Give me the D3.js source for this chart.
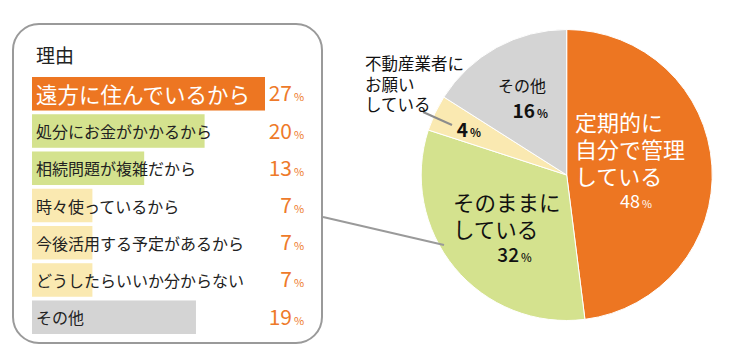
<!DOCTYPE html>
<html><head><meta charset="utf-8">
<script src="https://cdn.jsdelivr.net/npm/d3@7"></script>
<style>
html,body{margin:0;padding:0;background:#fff;}
svg{display:block;font-family:"Noto Sans CJK JP","Noto Sans",sans-serif;}
</style></head>
<body>
<svg id="chart" width="730" height="359"></svg>
<script>
// ---- data ----
const reasonTitle = "理由";
const reasons = ["遠方に住んでいるから","処分にお金がかかるから","相続問題が複雑だから","時々使っているから","今後活用する予定があるから","どうしたらいいか分からない","その他"];
const reasonValues = [27,20,13,7,7,7,19];
const reasonGroup = ["a","b","b","c","c","c","d"];

const pieLabels = [["定期的に","自分で管理","している"],["そのままに","している"],["不動産業者に","お願い","している"],["その他"]];
const pieValues = [48,32,4,16];
const pieKeys = ["a","b","c","d"];

// ---- styles ----
const colors = {a:"#ED7622", b:"#D4E28E", c:"#FAE9B1", d:"#D4D4D4"};
const orangeText = "#EE7A2A";

const svg = d3.select("#chart");

// ---- left panel ----
const box = {x:13, y:24, w:309, h:319};
svg.append("rect").attr("x",box.x).attr("y",box.y).attr("width",box.w).attr("height",box.h)
  .attr("rx",26).attr("ry",26).attr("fill","#fff").attr("stroke","#9a9a9a").attr("stroke-width",2);

svg.append("text").attr("x",36).attr("y",63).attr("font-size",19).attr("fill","#222").text(reasonTitle);

const x = d3.scaleLinear().domain([0,27]).range([32,265]);
const y = d3.scaleBand().domain(d3.range(reasons.length)).range([77,334]).paddingInner(0.1).paddingOuter(0);

const rows = svg.append("g").selectAll("g").data(reasons).join("g");
rows.append("rect")
  .attr("x",x(0)).attr("y",(d,i)=>y(i)).attr("height",y.bandwidth())
  .attr("width",(d,i)=>x(reasonValues[i])-x(0))
  .attr("fill",(d,i)=>colors[reasonGroup[i]]);
rows.append("text")
  .attr("x",36).attr("y",(d,i)=>y(i)+y.bandwidth()/2)
  .attr("dominant-baseline","central")
  .attr("font-size",(d,i)=>i===0?21.5:16)
  .attr("fill",(d,i)=>i===0?"#fff":"#222")
  .text(d=>d);
rows.append("text")
  .attr("x",292).attr("y",(d,i)=>y(i)+y.bandwidth()/2+7.5)
  .attr("text-anchor","end").attr("font-size",21).attr("fill",orangeText)
  .text((d,i)=>reasonValues[i]);
rows.append("text")
  .attr("x",294).attr("y",(d,i)=>y(i)+y.bandwidth()/2+7.5)
  .attr("font-size",11).attr("fill",orangeText).text("%");

// ---- pie ----
const cx = 566.7, cy = 175, r = 145.5;
const pie = d3.pie().sort(null).value(d=>d)(pieValues);
const arc = d3.arc().innerRadius(0).outerRadius(r);
const pg = svg.append("g").attr("transform",`translate(${cx},${cy})`);
pg.selectAll("path").data(pie).join("path")
  .attr("d",arc).attr("fill",(d,i)=>colors[pieKeys[i]])
  .attr("stroke","#fff").attr("stroke-width",1);

// connector from box to "そのままに" slice
svg.append("line").attr("x1",box.x+box.w+1).attr("y1",217).attr("x2",444).attr("y2",245)
  .attr("stroke","#9a9a9a").attr("stroke-width",2);
// leader for 4%
svg.append("line").attr("x1",423).attr("y1",112).attr("x2",452).attr("y2",125)
  .attr("stroke","#8c8c8c").attr("stroke-width",2);

function label(lines, x0, y0, lh, size, fill){
  lines.forEach((s,k)=>svg.append("text").attr("x",x0).attr("y",y0+k*lh)
    .attr("font-size",size).attr("fill",fill).text(s));
}
function pct(val, xEnd, yb, size, fill, weight){
  svg.append("text").attr("x",xEnd).attr("y",yb).attr("text-anchor","end")
    .attr("font-size",size).attr("font-weight",weight||400).attr("fill",fill).text(val);
  svg.append("text").attr("x",xEnd+2).attr("y",yb).attr("font-size",size*0.6)
    .attr("font-weight",weight||400).attr("fill",fill).text("%");
}
// slice 0
label(pieLabels[0], 575, 131, 27, 22, "#fff");
pct(pieValues[0], 640, 208, 18, "#fff");
// slice 1
label(pieLabels[1], 453, 211, 27, 21.5, "#111");
pct(pieValues[1], 519, 262, 19, "#111", 500);
// slice 2
label(pieLabels[2], 365, 70, 20.5, 16.5, "#111");
pct(pieValues[2], 468, 137, 19, "#111", 700);
// slice 3
label(pieLabels[3], 498, 92, 0, 16, "#111");
pct(pieValues[3], 535, 118, 19, "#111", 700);
</script>
</body></html>
